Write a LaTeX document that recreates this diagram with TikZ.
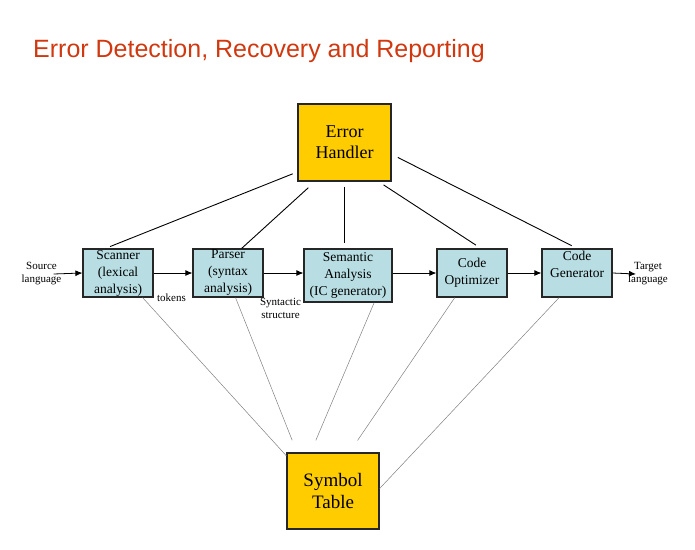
\documentclass[tikz,border=0pt]{standalone}
\usepackage{fontspec}
\setmainfont{Liberation Serif}
\newfontfamily\titlefont{Liberation Sans}
\usetikzlibrary{shapes,arrows,arrows.meta}

\definecolor{phasefill}{RGB}{184,222,227}
\definecolor{tablefill}{RGB}{255,204,0}
\definecolor{titlered}{RGB}{208,56,16}

\tikzset{
  phase/.style={draw=black!85,line width=1.2pt,fill=phasefill,minimum width=70,minimum height=48,inner sep=0,align=center,font=\fontsize{13.5}{17}\selectfont},
  bigbox/.style={draw=black!85,line width=1.2pt,fill=tablefill,inner sep=0,align=center},
  note/.style={inner sep=0,align=center,font=\fontsize{11}{13}\selectfont},
  errline/.style={line width=0.9pt},
  symline/.style={gray,line width=0.5pt},
  flow/.style={line width=0.8pt,-{Latex[length=7pt,width=6pt]}}
}

\begin{document}
\begin{tikzpicture}[x=1pt,y=-1pt]
  \useasboundingbox (0,0) rectangle (695,549);

  %title
  \node[anchor=base west,inner sep=0,text=titlered,font=\titlefont\fontsize{25}{28}\selectfont] (title) at (33,57) {Error Detection, Recovery and Reporting};

  %phases
  \node[phase] (scan) at (118,273) {Scanner\\(lexical\\analysis)};
  \node[phase] (par) at (228,273) {Parser\\(syntax\\analysis)};
  \node[phase,minimum width=88,minimum height=53] (sem) at (348,275.5) {Semantic\\Analysis\\(IC generator)};
  \node[phase] (opt) at (472,273) {Code\\Optimizer};
  \node[phase] (gen) at (577,273) {Code\\Generator\\\mbox{}};

  %handler and table
  \node[bigbox,minimum width=93,minimum height=77,font=\fontsize{18}{21}\selectfont] (err) at (344.5,142.5) {Error\\Handler};
  \node[bigbox,minimum width=92,minimum height=76,font=\fontsize{19}{22}\selectfont] (sym) at (333,491) {Symbol\\Table};

  %labels
  \node[note] (src) at (41.5,274) {Source\\language};
  \node[note] (tgt) at (648,274) {Target\\language};
  \node[note] (tok) at (171.5,298) {tokens};
  \node[note] (syn) at (280.5,308) {Syntactic\\structure};

  %flow
  \draw[flow] ([xshift=-8]src.east) -- (scan.west);
  \draw[flow] (scan.east) -- (par.west);
  \draw[flow] (par.east) -- (par.east -| sem.west);
  \draw[flow] (sem.east |- opt.west) -- (opt.west);
  \draw[flow] (opt.east) -- (gen.west);
  \draw[flow] (gen.east) -- ([xshift=8]tgt.west);

  %error handler lines
  \draw[errline,shorten <=5,shorten >=5] (err.212.4) -- (scan.117.5);
  \draw[errline,shorten <=9] (err.233.1) -- (par.61.6);
  \draw[errline,shorten <=5,shorten >=5] (err.south) -- (err.south |- sem.north);
  \draw[errline,shorten <=6,shorten >=6] (err.311.4) -- (opt.70.5);
  \draw[errline,shorten <=7,shorten >=6] (err.346.1) -- (gen.north);

  %symbol table lines
  \draw[symline] (scan.-45) -- (sym.143.5);
  \draw[symline,shorten >=13] (par.-73.7) -- (sym.133.6);
  \draw[symline,shorten >=13] (sem.-46.7) -- (sym.120.1);
  \draw[symline,shorten >=14.5] (opt.-125.3) -- (sym.67.4);
  \draw[symline] (gen.-126.9) -- (sym.3.7);

\end{tikzpicture}
\end{document}
